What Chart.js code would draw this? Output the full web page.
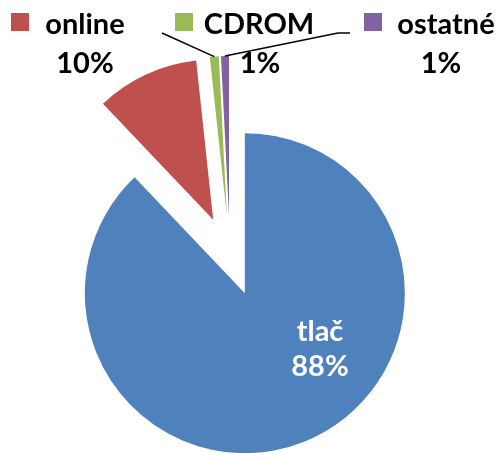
<!DOCTYPE html>
<html>
<head>
<meta charset="utf-8">
<script src="https://cdn.jsdelivr.net/npm/chart.js@4.4.0/dist/chart.umd.min.js"></script>
<style>
  html, body { margin: 0; padding: 0; background: #fff; }
  #wrap { position: relative; width: 498px; height: 453px; }
</style>
</head>
<body>
<div id="wrap"><canvas id="pieChart"></canvas></div>
<script>
const categories = ['tlač', 'online', 'CDROM', 'ostatné'];
const shares = [87.9, 10.4, 0.9, 0.8];
const sliceColors = ['#4F81BD', '#C0504D', '#9BBB59', '#8064A2'];

const PIE_RADIUS = 160;
const EXPLODE_PX = 40;

// exploded pie: push every arc out along its middle angle
// (the built-in offset option eats thin slices in chart.js 4.5)
const explode = {
    id: 'explode',
    afterDatasetUpdate(chart, args) {
        const area = chart.chartArea;
        const cx = (area.left + area.right) / 2;
        const cy = (area.top + area.bottom) / 2;
        args.meta.data.forEach(function (arc) {
            const mid = (arc.startAngle + arc.endAngle) / 2;
            arc.x = cx + Math.cos(mid) * EXPLODE_PX;
            arc.y = cy + Math.sin(mid) * EXPLODE_PX;
        });
    }
};

// data labels with legend keys and leader lines
const sliceLabels = {
    id: 'sliceLabels',
    afterDatasetsDraw(chart, args, opts) {
        const ctx = chart.ctx;
        const meta = chart.getDatasetMeta(0);
        const total = shares.reduce((a, b) => a + b, 0);
        ctx.save();
        ctx.font = 'bold 29px Lato';
        ctx.textAlign = 'center';
        ctx.textBaseline = 'alphabetic';
        opts.spots.forEach(function (s, i) {
            const pct = Math.round(shares[i] / total * 100) + '%';
            if (s.leader) {
                const arc = meta.data[i];
                const mid = (arc.startAngle + arc.endAngle) / 2;
                ctx.strokeStyle = '#000';
                ctx.lineWidth = 1.5;
                ctx.beginPath();
                s.leader.forEach(function (p, k) {
                    if (k === 0) ctx.moveTo(p[0], p[1]);
                    else ctx.lineTo(p[0], p[1]);
                });
                ctx.lineTo(arc.x + Math.cos(mid) * arc.outerRadius, arc.y + Math.sin(mid) * arc.outerRadius);
                ctx.stroke();
            }
            if (s.key) {
                ctx.fillStyle = sliceColors[i];
                ctx.fillRect(s.key[0], s.key[1], 18, 18);
            }
            ctx.fillStyle = s.color;
            ctx.fillText(categories[i], s.x, s.y);
            ctx.fillText(pct, s.px || s.x, s.y + s.gap);
        });
        ctx.restore();
    }
};

const ctxPie = document.getElementById('pieChart').getContext('2d');
new Chart(ctxPie, {
    type: 'pie',
    data: {
        labels: categories,
        datasets: [{
            data: shares,
            backgroundColor: sliceColors,
            borderWidth: 0,
            clip: false
        }]
    },
    options: {
        responsive: true,
        maintainAspectRatio: false,
        animation: false,
        radius: PIE_RADIUS,
        layout: {
            padding: { left: 0, right: 38, top: 59, bottom: 0 }
        },
        plugins: {
            legend: { display: false },
            tooltip: { enabled: false },
            sliceLabels: {
                spots: [
                    { x: 320, y: 341, gap: 35, color: '#fff' },
                    { x: 85, y: 34, gap: 39, color: '#000', key: [11, 13] },
                    { x: 259, px: 260, y: 34, gap: 39, color: '#000', key: [175, 13], leader: [[162, 33]] },
                    { x: 446, px: 441, y: 34, gap: 39, color: '#000', key: [364, 13], leader: [[350, 33], [338, 33]] }
                ]
            }
        }
    },
    plugins: [explode, sliceLabels]
});
</script>
</body>
</html>
